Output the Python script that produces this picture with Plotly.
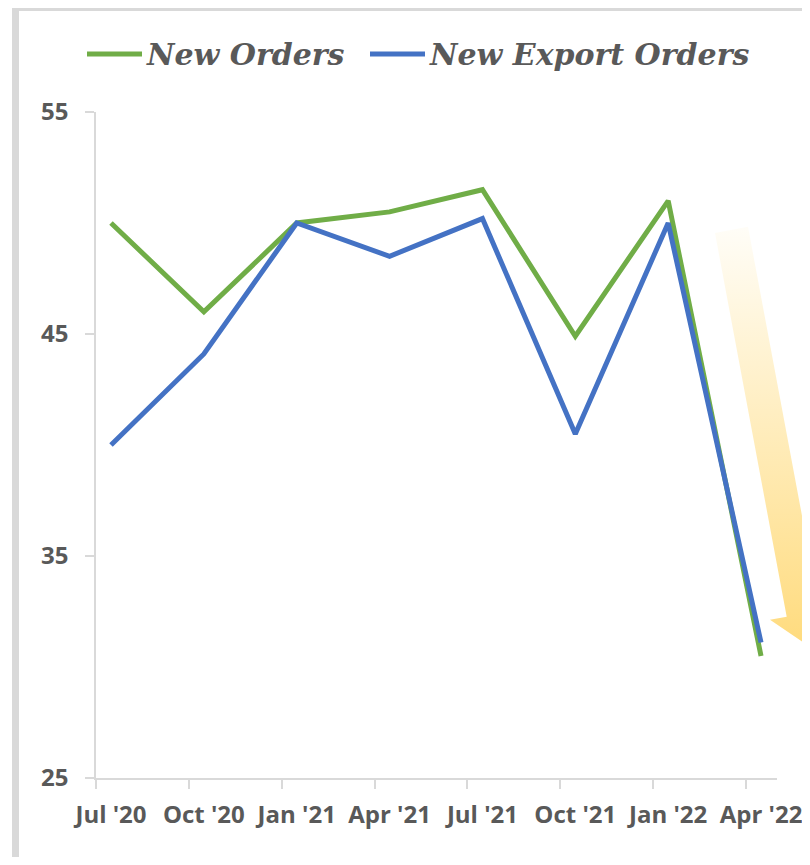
import plotly.graph_objects as go

# ---- data ----
categories = ["Jul '20", "Oct '20", "Jan '21", "Apr '21", "Jul '21", "Oct '21", "Jan '22", "Apr '22"]
new_orders = [50.0, 46.0, 50.0, 50.5, 51.5, 44.9, 51.0, 30.5]
new_export_orders = [40.0, 44.1, 50.0, 48.5, 50.2, 40.5, 50.0, 31.1]
y_ticks = [25, 35, 45, 55]
series_names = ["New Orders", "New Export Orders"]

# ---- styling ----
VW, VH = 810, 865          # browser window
BM = 8                     # default page body margin
W, H = VW - BM, VH - 2 * BM
GREEN = "#70ad47"
BLUE = "#4472c4"
TXT = "#595959"
AXIS = "#d9d9d9"

xpos = list(range(len(categories)))
offset = 0.1615  # tick marks sit slightly before each point (date-style axis)

# decorative arrow outline (screen pixel coordinates)
arrow_x = [715, 786.7, 770, 809.3, 836.4, 819.7, 748, 715]
arrow_y = [233, 616.7, 619.8, 646.3, 607.4, 610.5, 226.8, 233]

fig = go.Figure()

fig.add_trace(go.Scatter(
    x=arrow_x, y=arrow_y, xaxis="x", yaxis="y", mode="lines",
    line=dict(width=0, color="rgba(0,0,0,0)"), fill="toself",
    fillgradient=dict(type="vertical", start=228, stop=648,
                      colorscale=[[0, "rgba(255,253,247,1)"], [1, "rgba(255,219,125,1)"]]),
    hoverinfo="skip", showlegend=False,
))

fig.add_trace(go.Scatter(
    x=xpos, y=new_orders, xaxis="x2", yaxis="y2", mode="lines",
    name=series_names[0], line=dict(color=GREEN, width=5), showlegend=False,
))
fig.add_trace(go.Scatter(
    x=xpos, y=new_export_orders, xaxis="x2", yaxis="y2", mode="lines",
    name=series_names[1], line=dict(color=BLUE, width=5), showlegend=False,
))

def dom_x(a, b):
    return [(a - BM) / W, (b - BM) / W]

def dom_y(top, bottom):
    return [1 - (bottom - BM) / H, 1 - (top - BM) / H]

tick_font = dict(family="Open Sans", size=24, color=TXT, weight="bold")
fig.update_layout(
    width=W, height=H,
    margin=dict(l=0, r=0, t=0, b=0, pad=0, autoexpand=False),
    paper_bgcolor="white",
    plot_bgcolor="rgba(0,0,0,0)",
    showlegend=False,
    xaxis=dict(domain=[0, 1], range=[BM, BM + W], visible=False, fixedrange=True, automargin=False),
    yaxis=dict(domain=[0, 1], range=[BM + H, BM], visible=False, fixedrange=True, automargin=False),
    xaxis2=dict(
        domain=dom_x(96, 777), anchor="y2", automargin=False,
        range=[-offset, len(categories) - 1 + 0.172],
        tickmode="array", tickvals=xpos, ticktext=categories, ticks="",
        showline=True, linecolor=AXIS, linewidth=1.5, showgrid=False, zeroline=False,
        tickfont=tick_font, ticklabelstandoff=14,
        minor=dict(tickmode="array", tickvals=[p - offset for p in xpos],
                   ticks="outside", ticklen=9, tickcolor=AXIS, tickwidth=1.5, showgrid=False),
    ),
    yaxis2=dict(
        domain=dom_y(112, 778), anchor="x2", automargin=False,
        range=[25, 55], tickmode="array", tickvals=y_ticks,
        ticks="outside", ticklen=9, tickcolor=AXIS, tickwidth=1.5,
        showline=True, linecolor=AXIS, linewidth=1.5, showgrid=False, zeroline=False,
        tickfont=tick_font, ticklabelstandoff=12,
    ),
)

# border (gray frame)
for x0, y0, x1, y1 in [(12, 4, 19, VH + 5), (12, 4, VW + 5, 11), (807, 4, 809, VH + 5)]:
    fig.add_shape(type="rect", xref="x", yref="y", x0=x0, y0=y0, x1=x1, y1=y1,
                  fillcolor=AXIS, line=dict(width=0), layer="above")

# legend (drawn manually)
legend_items = [(series_names[0], GREEN, 87, 142), (series_names[1], BLUE, 370, 425)]
for name, col, lx0, lx1 in legend_items:
    fig.add_shape(type="line", xref="x", yref="y", x0=lx0, x1=lx1, y0=54, y1=54,
                  line=dict(color=col, width=5))
    fig.add_annotation(xref="x", yref="y", x=lx1 + 2, y=54, text=name, showarrow=False,
                       xanchor="left", yanchor="middle",
                       font=dict(family="DejaVu Serif", size=30, color=TXT,
                                 weight="bold", style="italic"))

fig.write_html("out.html")
